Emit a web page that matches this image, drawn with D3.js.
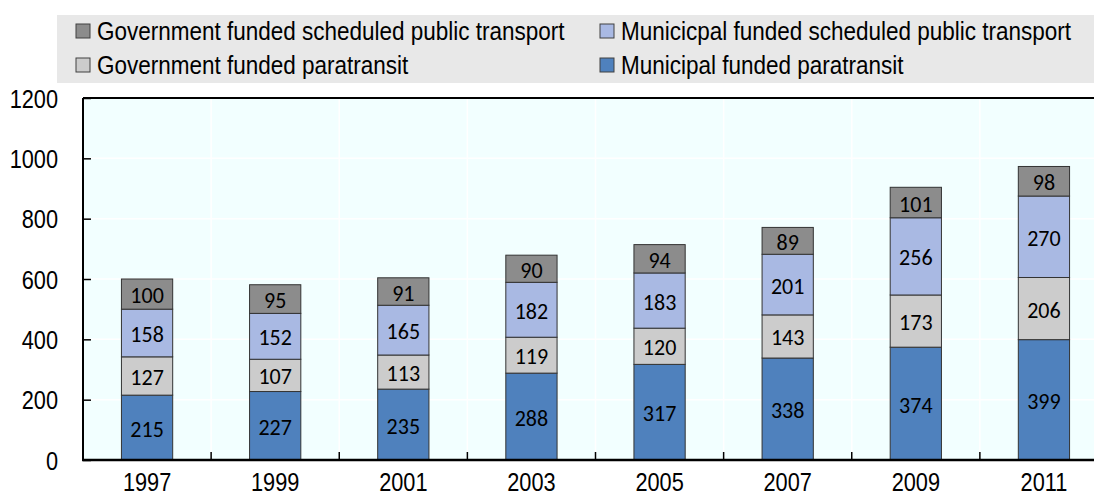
<!DOCTYPE html>
<html><head><meta charset="utf-8">
<script src="https://cdn.jsdelivr.net/npm/d3@7"></script>
<style>
html,body{margin:0;padding:0;background:#fff;}
svg{display:block;}
</style></head>
<body>
<svg id="chart" width="1094" height="496"></svg>
<script>
const years = ["1997","1999","2001","2003","2005","2007","2009","2011"];
const municipalParatransit = [215,227,235,288,317,338,374,399];
const governmentParatransit = [127,107,113,119,120,143,173,206];
const municipalScheduled = [158,152,165,182,183,201,256,270];
const governmentScheduled = [100,95,91,90,94,89,101,98];
const seriesNames = ["Municipal funded paratransit","Government funded paratransit","Municicpal funded scheduled public transport","Government funded scheduled public transport"];
const seriesColors = ["#4f81bd","#cccccc","#a9b9e3","#8c8c8c"];
const yTicks = [0,200,400,600,800,1000,1200];

const svg = d3.select("#chart");
const plot = {left:83, top:98, bottom:460, right:1108};

// horizontally condense text with a transform (keeps anchor position)
function squeeze(sel, k){
  sel.each(function(){
    const xv = +(this.getAttribute("x") || 0);
    const yv = +(this.getAttribute("y") || 0);
    this.setAttribute("x", 0);
    this.setAttribute("y", 0);
    this.setAttribute("transform", `translate(${xv},${yv}) scale(${k},1)`);
  });
}

// legend
svg.append("rect").attr("x",57).attr("y",15).attr("width",1037).attr("height",68).attr("fill","#e8e8e8");
const legendItems = [
  {s:3, x:76, y:31},
  {s:2, x:600, y:31},
  {s:1, x:76, y:65},
  {s:0, x:600, y:65}
];
legendItems.forEach(it=>{
  svg.append("rect").attr("x",it.x).attr("y",it.y-7).attr("width",14).attr("height",14)
    .attr("fill",seriesColors[it.s]).attr("stroke","#404040").attr("stroke-width",1);
  const t = svg.append("text").attr("x",it.x+21).attr("y",it.y+9)
    .attr("font-family","Liberation Sans, Arial, sans-serif").attr("font-size",25).attr("fill","#000")
    .text(seriesNames[it.s]);
  squeeze(t, 0.9);
});

// plot background
svg.append("rect").attr("x",plot.left).attr("y",plot.top).attr("width",plot.right-plot.left).attr("height",plot.bottom-plot.top).attr("fill","#f2ffff");

const x = d3.scaleBand().domain(years).range([plot.left, plot.right]).paddingInner(0.6).paddingOuter(0.3);
const xb = d3.scaleBand().domain(years).range([plot.left, plot.right]);
const y = d3.scaleLinear().domain([0,1200]).range([plot.bottom, plot.top]);

// faint gridlines
svg.append("g").selectAll("line.h").data(yTicks.slice(1,-1)).join("line")
  .attr("x1",plot.left).attr("x2",plot.right).attr("y1",d=>y(d)).attr("y2",d=>y(d))
  .attr("stroke","#ffffff").attr("stroke-width",1.5);
svg.append("g").selectAll("line.v").data(years.slice(1)).join("line")
  .attr("x1",d=>xb(d)).attr("x2",d=>xb(d)).attr("y1",plot.top).attr("y2",plot.bottom)
  .attr("stroke","#ffffff").attr("stroke-width",1.5);

// stacked data
const table = years.map((yr,i)=>({year:yr, s0:municipalParatransit[i], s1:governmentParatransit[i], s2:municipalScheduled[i], s3:governmentScheduled[i]}));
const stack = d3.stack().keys(["s0","s1","s2","s3"])(table);

const g = svg.append("g");
stack.forEach((layer,li)=>{
  g.selectAll(null).data(layer).join("rect")
    .attr("x",d=>x(d.data.year)).attr("width",x.bandwidth())
    .attr("y",d=>y(d[1])).attr("height",d=>y(d[0])-y(d[1]))
    .attr("fill",seriesColors[li]).attr("stroke","#333").attr("stroke-width",1);
});
stack.forEach((layer,li)=>{
  g.selectAll(null).data(layer).join("text")
    .attr("x",d=>x(d.data.year)+x.bandwidth()/2)
    .attr("y",d=>(y(d[0])+y(d[1]))/2 + 9)
    .attr("text-anchor","middle")
    .attr("font-family","Carlito, Lato, sans-serif").attr("font-size",22).attr("fill","#000")
    .text(d=>d[1]-d[0]);
});

// axes
const yAxis = svg.append("g").attr("transform",`translate(${plot.left},0)`)
  .call(d3.axisLeft(y).tickValues(yTicks).tickSize(-8).tickPadding(25).tickFormat(d3.format("d")));
yAxis.select(".domain").remove();
yAxis.selectAll(".tick line").attr("stroke","#000").attr("stroke-width",1.5);
yAxis.selectAll(".tick text").attr("font-family","Liberation Sans, Arial, sans-serif").attr("font-size",25).attr("fill","#000").attr("dy","0.36em");
squeeze(yAxis.selectAll(".tick text"), 0.87);

const xAxis = svg.append("g").attr("transform",`translate(0,${plot.bottom})`)
  .call(d3.axisBottom(x).tickSize(0).tickPadding(13));
xAxis.select(".domain").remove();
xAxis.selectAll(".tick text").attr("font-family","Liberation Sans, Arial, sans-serif").attr("font-size",25).attr("fill","#000").attr("dy","0.71em");
squeeze(xAxis.selectAll(".tick text"), 0.87);

// category separator ticks
svg.append("g").selectAll("line").data(years.slice(1)).join("line")
  .attr("x1",d=>xb(d)).attr("x2",d=>xb(d)).attr("y1",plot.bottom).attr("y2",plot.bottom-8)
  .attr("stroke","#000").attr("stroke-width",1.5);

// frame lines
svg.append("line").attr("x1",plot.left).attr("x2",plot.right).attr("y1",plot.top).attr("y2",plot.top).attr("stroke","#000").attr("stroke-width",2);
svg.append("line").attr("x1",plot.left).attr("x2",plot.left).attr("y1",plot.top).attr("y2",plot.bottom).attr("stroke","#000").attr("stroke-width",2);
svg.append("line").attr("x1",plot.left-1).attr("x2",plot.right).attr("y1",plot.bottom).attr("y2",plot.bottom).attr("stroke","#000").attr("stroke-width",2.5);
</script>
</body></html>
